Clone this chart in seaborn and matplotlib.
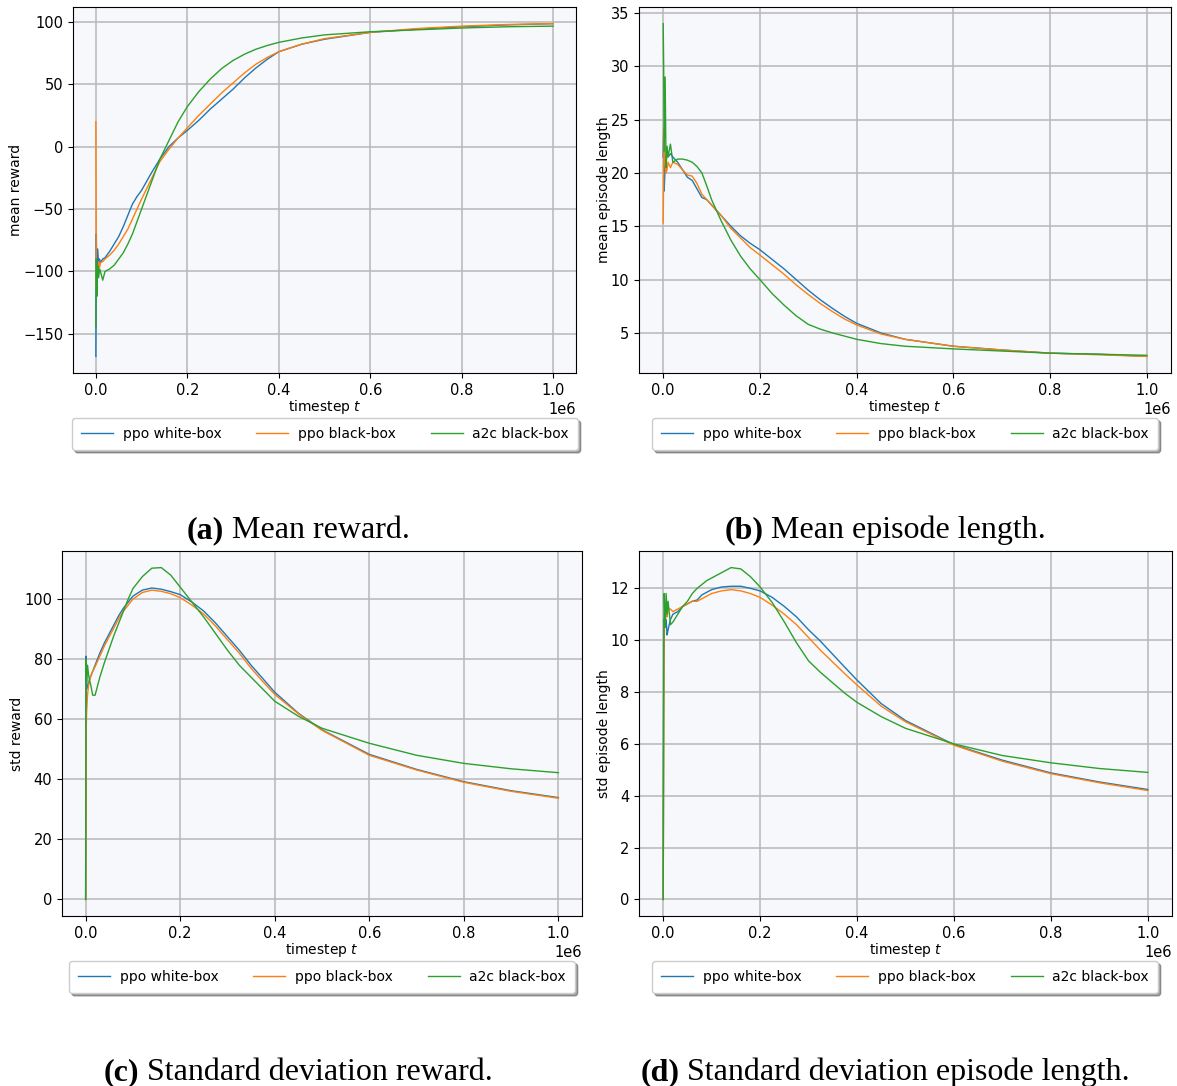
import pandas as pd
import matplotlib
matplotlib.use("Agg")
import matplotlib.pyplot as plt
import seaborn as sns

steps = [0, 1000, 2000, 4000, 6000, 8000, 10000, 15000, 20000, 30000, 40000,
         50000, 60000, 70000, 80000, 90000, 100000, 120000, 140000, 160000,
         180000, 200000, 225000, 250000, 275000, 300000, 325000, 350000, 375000,
         400000, 450000, 500000, 600000, 700000, 800000, 900000, 1000000]

labels = ["ppo white-box", "ppo black-box", "a2c black-box"]
colors = ["#1f77b4", "#ff7f0e", "#2ca02c"]

# (a) mean reward
mean_rew_ppo_white = [-168, -70, -100, -82, -95, -90, -93, -90, -89, -84, -78,
                      -72, -64, -55, -46, -40, -35, -22, -10, 0,
                      7, 13, 21, 30, 38, 46, 55, 63, 70,
                      76, 82, 86, 91.5, 94, 96, 97.5, 98.5]
mean_rew_ppo_black = [20, -112, -95, -105, -92, -97, -93, -92, -90, -87, -83,
                      -78, -72, -66, -58, -50, -42, -27, -12, -2,
                      7, 15, 25, 34, 43, 51, 59, 66, 71.5,
                      76, 82, 86.5, 91.5, 94.5, 96.5, 97.8, 98.5]
mean_rew_a2c_black = [-145, -90, -120, -95, -105, -98, -100, -107, -100, -98, -95,
                      -90, -85, -78, -70, -60, -50, -30, -10, 5,
                      20, 32, 44, 54, 62.5, 69, 74, 78, 81,
                      83.5, 87, 89.5, 92, 93.5, 95, 96, 96.5]

# (b) mean episode length
mean_len_ppo_white = [21.5, 24, 18.3, 20.5, 21, 22, 21.5, 21.8, 21.5, 21, 20.3,
                      19.6, 19.3, 18.5, 17.7, 17.5, 17.0, 16.0, 15.0, 14.1,
                      13.4, 12.8, 11.9, 11.0, 10.0, 9.0, 8.1, 7.3, 6.55,
                      5.9, 5.0, 4.4, 3.75, 3.4, 3.1, 3.0, 2.8]
mean_len_ppo_black = [15.3, 20, 24.2, 21, 20, 20.3, 21, 20.5, 21, 20.8, 20.3,
                      19.8, 19.7, 19, 18, 17.5, 17, 16, 14.8, 13.9,
                      13.0, 12.3, 11.4, 10.5, 9.5, 8.6, 7.75, 7.0, 6.3,
                      5.75, 4.9, 4.4, 3.75, 3.4, 3.1, 2.95, 2.8]
mean_len_a2c_black = [34, 30, 22, 29, 20.5, 22.5, 21.5, 22.7, 21, 21.3, 21.3,
                      21.2, 21, 20.6, 20, 18.8, 17.5, 15.5, 13.7, 12.2,
                      11, 10, 8.7, 7.6, 6.6, 5.8, 5.35, 5.0, 4.7,
                      4.4, 4.0, 3.75, 3.5, 3.3, 3.1, 3.0, 2.9]

# (c) std reward
std_rew_ppo_white = [0, 81, 70, 71, 72, 73, 74, 76, 78, 82, 85.5,
                     88.5, 91.5, 94.5, 97, 99, 101, 103, 103.7, 103.3,
                     102.5, 101.5, 99, 96, 92, 87.5, 83, 78, 73.5,
                     69, 62, 56.5, 48.3, 43.3, 39.2, 36.2, 33.9]
std_rew_ppo_black = [0, 55, 62, 68, 71, 72.5, 74, 76, 77.5, 81, 84.5,
                     87.5, 90.5, 93.5, 96, 98, 100, 102.2, 103, 102.6,
                     101.8, 100.5, 98, 95, 91, 86.5, 82, 77, 72.5,
                     68.3, 61.8, 56.3, 48.0, 43.1, 39, 36, 33.7]
std_rew_a2c_black = [0, 80, 72, 78, 75, 73, 72, 68, 68, 74, 79,
                     83.5, 88, 92, 96, 100, 103.5, 107.5, 110.3, 110.5,
                     108, 104, 99, 94, 88.5, 83, 78, 74, 70,
                     66, 61, 57, 52, 48, 45.3, 43.5, 42.2]

# (d) std episode length
std_len_ppo_white = [0, 9.5, 10.8, 10.5, 10.8, 10.2, 10.4, 10.8, 11.0, 11.1, 11.3,
                     11.4, 11.5, 11.55, 11.75, 11.85, 11.95, 12.05, 12.08, 12.08,
                     12.0, 11.9, 11.65, 11.3, 10.9, 10.4, 9.95, 9.45, 8.95,
                     8.46, 7.55, 6.9, 5.97, 5.37, 4.88, 4.53, 4.24]
std_len_ppo_black = [0, 7, 10, 11.3, 11.0, 10.9, 11.2, 11.2, 11.1, 11.2, 11.3,
                     11.4, 11.5, 11.5, 11.6, 11.7, 11.8, 11.9, 11.95, 11.9,
                     11.8, 11.65, 11.35, 11.0, 10.6, 10.1, 9.6, 9.15, 8.7,
                     8.27, 7.45, 6.85, 5.95, 5.33, 4.85, 4.5, 4.2]
std_len_a2c_black = [0, 9, 11.8, 10.5, 11.8, 11, 11.5, 10.6, 10.7, 11.0, 11.3,
                     11.5, 11.8, 12.0, 12.15, 12.3, 12.4, 12.6, 12.8, 12.75,
                     12.45, 12.05, 11.45, 10.7, 9.9, 9.2, 8.75, 8.35, 7.95,
                     7.6, 7.05, 6.6, 6.0, 5.55, 5.27, 5.05, 4.9]

W, H = 1177, 1086
plt.rcParams['font.family'] = ['DejaVu Sans']
plt.rcParams['font.size'] = 10
plt.rcParams['xtick.labelsize'] = 10.5
plt.rcParams['ytick.labelsize'] = 10.5

fig = plt.figure(figsize=(W / 100, H / 100), dpi=100)


def px_axes(left, top, right, bottom):
    return fig.add_axes([left / W, 1 - bottom / H, (right - left) / W, (bottom - top) / H])


def draw_panel(ax, series, ylabel, leg_cx, leg_top):
    for vals, lab, col in zip(series, labels, colors):
        sns.lineplot(x=steps, y=vals, ax=ax, label=lab, color=col, linewidth=1.0)
    ax.set_facecolor("#f6f8fc")
    ax.grid(True, color="#b8b8b8", linewidth=1.1)
    ax.set_axisbelow(True)
    ax.set_xlabel("timestep $t$", labelpad=0)
    ax.set_ylabel(ylabel, labelpad=0)
    ax.legend(loc="upper center", bbox_to_anchor=(leg_cx / W, 1 - leg_top / H),
              bbox_transform=fig.transFigure, borderaxespad=0, ncol=3,
              shadow=True, fancybox=True, handlelength=2.3, handletextpad=0.7,
              columnspacing=2.5, borderpad=0.65, fontsize=10)


ax_a = px_axes(73, 7, 576, 373)
ax_b = px_axes(639, 7, 1171, 373)
ax_c = px_axes(62, 551, 582, 916)
ax_d = px_axes(639, 551, 1172, 916)

draw_panel(ax_a, [mean_rew_ppo_white, mean_rew_ppo_black, mean_rew_a2c_black],
           "mean reward", 325, 418)
draw_panel(ax_b, [mean_len_ppo_white, mean_len_ppo_black, mean_len_a2c_black],
           "mean episode length", 905, 418)
draw_panel(ax_c, [std_rew_ppo_white, std_rew_ppo_black, std_rew_a2c_black],
           "std reward", 322, 961)
draw_panel(ax_d, [std_len_ppo_white, std_len_ppo_black, std_len_a2c_black],
           "std episode length", 905, 961)

# sub-captions, bold tag + regular text, centred as a whole
captions = [("(a)", " Mean reward.", 298, 538),
            ("(b)", " Mean episode length.", 885, 538),
            ("(c)", " Standard deviation reward.", 298, 1080),
            ("(d)", " Standard deviation episode length.", 885, 1080)]
renderer = fig.canvas.get_renderer()
for tag, rest, cx, base in captions:
    t1 = fig.text(0, 1 - base / H, tag, family="Liberation Serif", weight="bold",
                  fontsize=23, va="baseline", ha="left")
    t2 = fig.text(0, 1 - base / H, rest, family="Liberation Serif",
                  fontsize=23, va="baseline", ha="left")
    w1 = t1.get_window_extent(renderer).width
    w2 = t2.get_window_extent(renderer).width
    x0 = cx - (w1 + w2) / 2
    t1.set_x(x0 / W)
    t2.set_x((x0 + w1) / W)

fig.savefig("out.png", dpi=100)
